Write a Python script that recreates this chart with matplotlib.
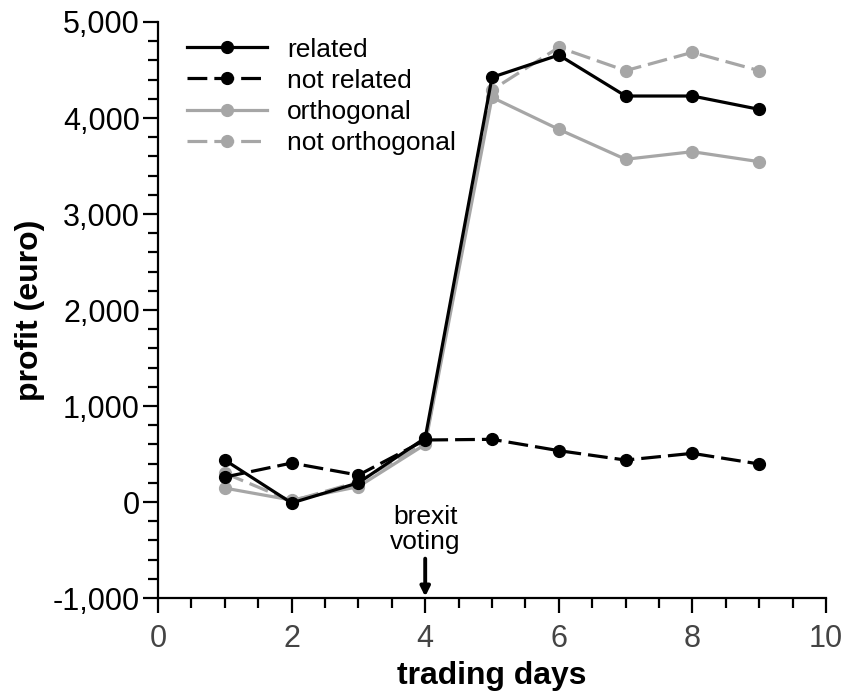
import matplotlib.pyplot as plt
from matplotlib.ticker import MultipleLocator, FuncFormatter

plt.rcParams['font.family'] = ['Liberation Sans', 'DejaVu Sans']

days = [1, 2, 3, 4, 5, 6, 7, 8, 9]
related = [437, -10, 200, 667, 4424, 4656, 4229, 4229, 4090]
not_related = [260, 406, 280, 646, 653, 535, 437, 507, 396]
orthogonal = [145, 20, 160, 600, 4215, 3882, 3570, 3649, 3545]
not_orthogonal = [300, 10, 210, 620, 4292, 4736, 4493, 4684, 4493]

grey = '#a6a6a6'

fig = plt.figure(figsize=(8.45, 6.94), dpi=100)
ax = fig.add_axes([0.187, 0.1383, 0.7905, 0.8300])

lw = 2.3
ms = 8.5
dash = (6.2, 2.2)
ax.plot(days, related, color='black', lw=lw, marker='o', ms=ms, label='related', zorder=4)
ax.plot(days, not_related, color='black', lw=lw, marker='o', ms=ms, dashes=dash,
        label='not related', zorder=4)
ax.plot(days, orthogonal, color=grey, lw=lw, marker='o', ms=ms, label='orthogonal', zorder=3)
ax.plot(days, not_orthogonal, color=grey, lw=lw, marker='o', ms=ms, dashes=dash,
        label='not orthogonal', zorder=3)

ax.set_xlim(0, 10)
ax.set_ylim(-1000, 5000)

# axis styling
for s in ['top', 'right']:
    ax.spines[s].set_visible(False)
for s in ['left', 'bottom']:
    ax.spines[s].set_linewidth(1.6)

ax.xaxis.set_major_locator(MultipleLocator(2))
ax.xaxis.set_minor_locator(MultipleLocator(0.5))
ax.yaxis.set_major_locator(MultipleLocator(1000))
ax.yaxis.set_minor_locator(MultipleLocator(200))
ax.yaxis.set_major_formatter(FuncFormatter(lambda v, p: f'{int(v):,}'))

ax.tick_params(which='major', length=11, width=1.6, labelsize=22, pad=2)
ax.tick_params(which='minor', length=7.5, width=1.6)
ax.tick_params(axis='x', labelcolor='#444444', pad=8)

ax.set_xlabel('trading days', fontsize=23, fontweight='bold', labelpad=5)
ax.set_ylabel('profit (euro)', fontsize=23, fontweight='bold', labelpad=6)

# brexit annotation
ax.text(4, -290, 'brexit\nvoting', ha='center', va='center', fontsize=19, linespacing=1.05)
ax.annotate('', xy=(4, -985), xytext=(4, -590),
            arrowprops=dict(arrowstyle='-|>', lw=2.8, color='black', mutation_scale=14,
                            shrinkA=0, shrinkB=0), annotation_clip=False)

leg = ax.legend(loc='upper left', bbox_to_anchor=(0.043, 0.973), frameon=False,
                fontsize=19, handlelength=3.05, handletextpad=0.75, labelspacing=0.27,
                borderpad=0, borderaxespad=0)

fig.savefig('out.png', dpi=100)
